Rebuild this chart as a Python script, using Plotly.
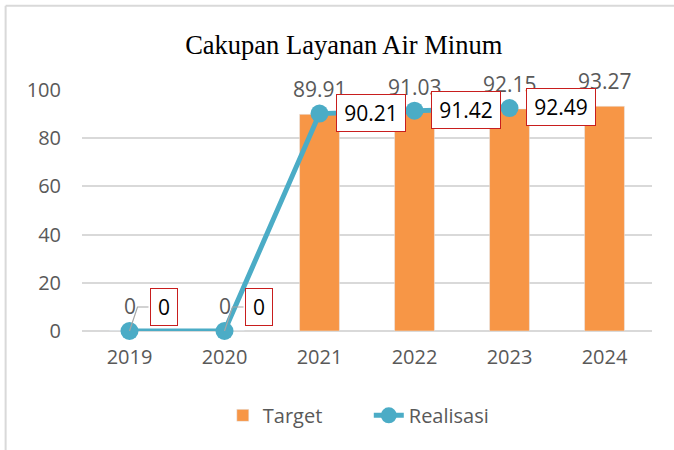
import plotly.graph_objects as go

years = ["2019", "2020", "2021", "2022", "2023", "2024"]
target = [0, 0, 89.91, 91.03, 92.15, 93.27]
realisasi = [0, 0, 90.21, 91.42, 92.49, None]
y_ticks = [0, 20, 40, 60, 80, 100]

BAR = "#F79646"
LINE = "#4BACC6"
GRID = "#D9D9D9"
TXT = "#595959"
FONT = "Open Sans"

fig = go.Figure()
fig.add_trace(go.Bar(
    x=years, y=target, name="Target", marker_color=BAR, width=0.42,
))
fig.add_trace(go.Scatter(
    x=years, y=realisasi, name="Realisasi", mode="lines+markers",
    line=dict(color=LINE, width=5), marker=dict(size=18, color=LINE),
    cliponaxis=False,
))

ann = []
for i, v in enumerate(target):
    ann.append(dict(x=i, y=v, xref="x", yref="y", text=f"{v:g}" if v == 0 else f"{v:.2f}",
                    showarrow=False, yanchor="middle", yshift=25,
                    font=dict(family=FONT, size=21, color=TXT)))

shapes = []
for i, v in enumerate(realisasi):
    if v is None:
        continue
    if v == 0:
        txt, w, xs, ys = "0", 20, 34, 24
        shapes.append(dict(type="path", xref="x", yref="y", xsizemode="pixel", ysizemode="pixel",
                           xanchor=i, yanchor=v, path="M0,0 L8,24 L19,24",
                           line=dict(color="#A6A6A6", width=1.2)))
    else:
        txt, w, xs, ys = f"{v:.2f}", 62, 51, 1
    ann.append(dict(x=i, y=v, xref="x", yref="y", text=txt, showarrow=False,
                    xshift=xs, yshift=ys, width=w, height=30, borderpad=3,
                    bordercolor="#C81E1E", borderwidth=1, bgcolor="white",
                    font=dict(family=FONT, size=21, color="black")))

fig.update_layout(
    width=674, height=450,
    margin=dict(l=82, r=22, t=90, b=119, autoexpand=False),
    paper_bgcolor="white", plot_bgcolor="white",
    title=dict(text="Cakupan Layanan Air Minum", x=0.51, xref="container", xanchor="center",
               y=0.9, yref="container", yanchor="middle",
               font=dict(family="Liberation Serif", size=26.5, color="black")),
    font=dict(family=FONT, color=TXT, size=20),
    xaxis=dict(type="category", range=[-0.5, 5.5], autorange=False, showgrid=False,
               showline=False, zeroline=False,
               tickfont=dict(size=20, color=TXT), ticklabelstandoff=12),
    yaxis=dict(range=[0, 100], autorange=False, tickvals=y_ticks, showgrid=True, gridcolor=GRID,
               gridwidth=1.5, zeroline=True, zerolinecolor=GRID, zerolinewidth=1.5, showline=False,
               tickfont=dict(size=20, color=TXT), ticklabelstandoff=20),
    legend=dict(orientation="h", x=0.247, xanchor="left", y=-0.35, yanchor="middle",
                entrywidth=101, entrywidthmode="pixels",
                font=dict(size=20, color=TXT), bgcolor="rgba(0,0,0,0)"),
    annotations=ann,
    shapes=shapes,
)
# chart border (left and top)
fig.add_shape(type="line", xref="paper", yref="paper", x0=-0.134, x1=1.1, y0=1.35, y1=1.35,
              line=dict(color=GRID, width=2))
fig.add_shape(type="line", xref="paper", yref="paper", x0=-0.134, x1=-0.134, y0=1.35, y1=-0.5,
              line=dict(color=GRID, width=2))

fig.write_html("out.html", post_script="document.body.style.margin='0';",
               config={"displayModeBar": False})
